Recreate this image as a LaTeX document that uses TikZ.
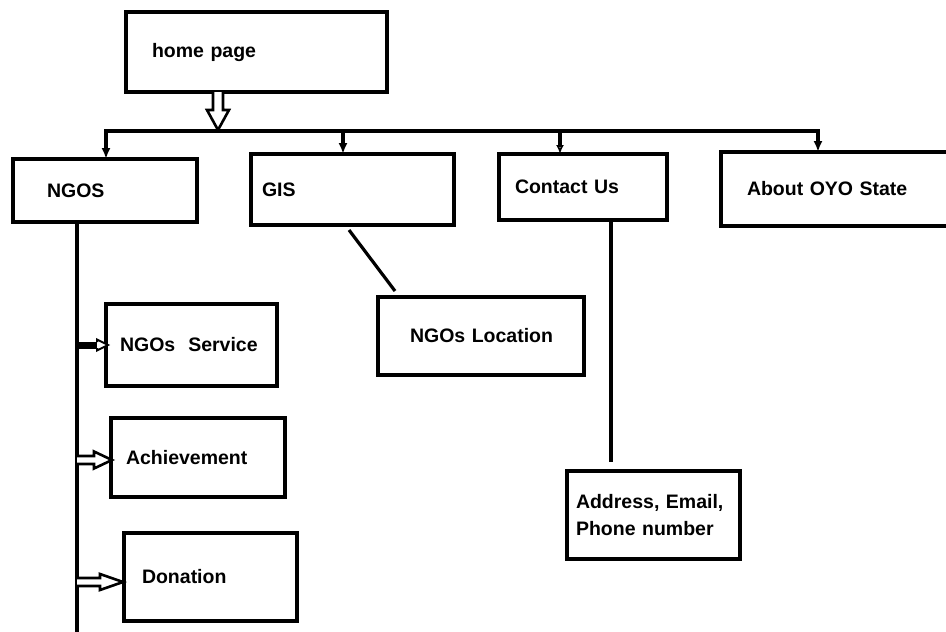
\documentclass[tikz,border=0pt]{standalone}
\usepackage{fontspec}
\setmainfont{Liberation Sans}
\usetikzlibrary{arrows.meta,calc}
\tikzset{
  box/.style={draw, line width=3.4pt, rectangle, anchor=north west, outer sep=0pt,
    align=left, inner ysep=0pt, font=\fontsize{19.5}{27}\selectfont\bfseries},
  wire/.style={line width=3.2pt},
  drop/.style={line width=3.2pt, -{Latex[length=11pt,width=9pt]}},
  dropopen/.style={line width=3.2pt, -{Latex[open,length=9pt,width=8pt]}},
  hollow/.style={line width=2.6pt, fill=white, line join=miter},
}
\begin{document}
\begin{tikzpicture}[x=1pt,y=-1pt]
\useasboundingbox (0,0) rectangle (946,632);
\clip (0,0) rectangle (946,632);
\fill[white] (0,0) rectangle (946,632);
% boxes
\node[box, minimum width=261pt, minimum height=80pt, text width=209pt, inner xsep=26pt] (home) at (126,12) {home page};
\node[box, minimum width=184pt, minimum height=63pt, text width=116pt, inner xsep=34pt] (ngos) at (13,159) {NGOS};
\node[box, minimum width=203pt, minimum height=71pt, text width=181pt, inner xsep=11pt] (gis) at (251,154) {GIS};
\node[box, minimum width=168pt, minimum height=66pt, text width=136pt, inner xsep=16pt] (contact) at (499,154) {Contact Us};
\node[box, minimum width=240pt, minimum height=74pt, text width=188pt, inner xsep=26pt] (about) at (721,152) {About OYO State};
\node[box, minimum width=171pt, minimum height=82pt, text width=143pt, inner xsep=14pt] (service) at (106,304) {\mbox{NGOs\ \ Service}};
\node[box, minimum width=174pt, minimum height=79pt, text width=144pt, inner xsep=15pt] (achieve) at (111,418) {\mbox{Achievement}};
\node[box, minimum width=173pt, minimum height=88pt, text width=137pt, inner xsep=18pt] (donation) at (124,533) {\mbox{Donation}};
\node[box, minimum width=206pt, minimum height=78pt, text width=142pt, inner xsep=32pt] (loc) at (378,297) {\mbox{NGOs Location}};
\node[box, minimum width=173pt, minimum height=88pt, text width=155pt, inner xsep=9pt] (addr) at (567,471) {\mbox{Address, Email,}\\\mbox{Phone number}};
% bar and drops
\coordinate (b1) at (106,131);
\coordinate (b2) at (343,131);
\coordinate (b3) at (560,131);
\coordinate (b4) at (818,131);
\draw[wire] ($(b1)+(-1.6,0)$) -- ($(b4)+(1.6,0)$);
\draw[drop] (b1) -- (b1 |- ngos.north);
\draw[drop] (b2) -- (b2 |- gis.north);
\draw[dropopen] (b3) -- (b3 |- contact.north);
\draw[drop] (b4) -- (b4 |- about.north);
% hollow arrow from home page to bar
\coordinate (ha) at (home.south -| 218,0);
\draw[hollow, shift={(ha)}] (-5,0) -- (-5,18) -- (-11,18) -- (0,38) -- (11,18) -- (5,18) -- (5,0);
% NGOS vertical line
\coordinate (vb) at (77,640);
\draw[wire] (ngos.south -| vb) -- (vb);
% arrows to sub boxes
\coordinate (sa) at (vb |- service.west);
\coordinate (aa) at (vb |- 0,460);
\coordinate (da) at (vb |- 0,582);
\draw[line width=7pt] (sa) -- ($(sa)+(22,0)$);
\draw[hollow, line width=2pt, shift={(sa)}] (20,-3) -- (20,-5.5) -- (31,0) -- (20,5.5) -- (20,3);
\draw[hollow, shift={(aa)}] (0,-4) -- (17,-4) -- (17,-8.5) -- (35,0) -- (17,8.5) -- (17,4) -- (0,4);
\draw[hollow, shift={(da)}] (0,-4) -- (23,-4) -- (23,-8) -- (46,0) -- (23,8) -- (23,4) -- (0,4);
% other connectors
\draw[wire] ($(gis.south west)+(98,5)$) -- ($(loc.north west)+(17,-6)$);
\coordinate (c1) at (611,462);
\draw[wire] (contact.south -| c1) -- (c1);
\end{tikzpicture}
\end{document}
